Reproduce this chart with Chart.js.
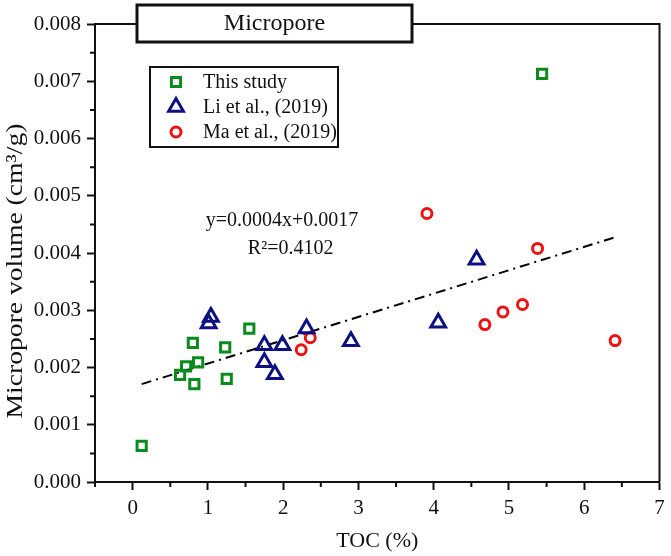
<!DOCTYPE html>
<html>
<head>
<meta charset="utf-8">
<script src="https://cdn.jsdelivr.net/npm/chart.js@4.4.1/dist/chart.umd.min.js"></script>
<style>
  body { margin: 0; background: #fff; }
  #wrap { width: 671px; height: 556px; position: relative; }
</style>
</head>
<body>
<div id="wrap"><canvas id="chart"></canvas></div>
<script>
// values
const thisStudyToc = [0.12, 0.63, 0.71, 0.80, 0.82, 0.87, 1.23, 1.25, 1.55, 5.44];
const thisStudyVol = [0.00063, 0.00187, 0.00202, 0.00243, 0.00171, 0.00209, 0.00235, 0.00180, 0.00268, 0.00713];

const liToc = [1.04, 1.01, 1.75, 1.75, 1.89, 1.99, 2.31, 2.90, 4.06, 4.57];
const liVol = [0.00288, 0.00277, 0.00239, 0.00209, 0.00188, 0.00239, 0.00268, 0.00246, 0.00278, 0.00388];

const maToc = [2.24, 2.36, 3.91, 4.68, 4.92, 5.18, 5.38, 6.41];
const maVol = [0.00231, 0.00252, 0.00469, 0.00275, 0.00297, 0.00310, 0.00408, 0.00247];

// fitted line, end points as drawn
const fitToc = [0.12, 6.40];
const fitVol = [0.00171, 0.00427];

const xTickValues = [0, 1, 2, 3, 4, 5, 6, 7];
const xMinorValues = [-0.5, 0.5, 1.5, 2.5, 3.5, 4.5, 5.5, 6.5];
const yTickValues = [0, 0.001, 0.002, 0.003, 0.004, 0.005, 0.006, 0.007, 0.008];
const yMinorValues = [0.0005, 0.0015, 0.0025, 0.0035, 0.0045, 0.0055, 0.0065, 0.0075];

const seriesLabels = ['This study', 'Li et al., (2019)', 'Ma et al., (2019)'];
const fitText = ['y=0.0004x+0.0017', 'R\u00b2=0.4102'];
const panelTitle = 'Micropore';

function toPoints(xs, ys) {
  return xs.map((x, i) => ({ x: x, y: ys[i] }));
}

const SERIF = '"Liberation Serif", "Times New Roman", serif';
const INK = '#111';
Chart.defaults.font.family = SERIF;
Chart.defaults.color = INK;

// frame, minor ticks, legend, equation and title box
const decorPlugin = {
  id: 'decor',
  afterDraw(chart) {
    const ctx = chart.ctx;
    const area = chart.chartArea;
    const xs = chart.scales.x, ys = chart.scales.y;
    ctx.save();

    // top and right borders
    ctx.strokeStyle = INK;
    ctx.lineWidth = 2;
    ctx.beginPath();
    ctx.moveTo(area.left, area.top);
    ctx.lineTo(area.right, area.top);
    ctx.lineTo(area.right, area.bottom);
    ctx.stroke();

    // minor ticks
    ctx.beginPath();
    xMinorValues.forEach(v => {
      const px = xs.getPixelForValue(v);
      ctx.moveTo(px, area.bottom);
      ctx.lineTo(px, area.bottom + 5);
    });
    yMinorValues.forEach(v => {
      const py = ys.getPixelForValue(v);
      ctx.moveTo(area.left, py);
      ctx.lineTo(area.left - 5, py);
    });
    ctx.stroke();

    // legend
    ctx.fillStyle = '#fff';
    ctx.fillRect(150, 67, 188, 80);
    ctx.strokeRect(150, 67, 188, 80);
    ctx.font = '20px ' + SERIF;
    ctx.textBaseline = 'middle';
    ctx.textAlign = 'left';
    seriesLabels.forEach((lab, i) => {
      const ds = chart.data.datasets[i];
      const y = 82 + i * 25;
      ctx.strokeStyle = ds.borderColor;
      ctx.fillStyle = 'rgba(0,0,0,0)';
      ctx.lineWidth = ds.borderWidth;
      Chart.helpers.drawPoint(ctx, { pointStyle: ds.pointStyle, radius: ds.pointRadius, borderWidth: ds.borderWidth, rotation: 0 }, 176, y);
      ctx.fillStyle = INK;
      ctx.fillText(lab, 203, y + 1);
    });

    // fit equation
    ctx.font = '20px ' + SERIF;
    ctx.fillText(fitText[0], xs.getPixelForValue(0.97), ys.getPixelForValue(0.00457));
    ctx.fillText(fitText[1], xs.getPixelForValue(1.53), ys.getPixelForValue(0.00408));

    // y axis title, stretched along its length like the original
    ctx.save();
    ctx.translate(16, (area.top + area.bottom) / 2 + 18);
    ctx.rotate(-Math.PI / 2);
    ctx.scale(1.2, 1);
    ctx.font = '23px ' + SERIF;
    ctx.textAlign = 'center';
    ctx.fillText('Micropore volume (cm\u00b3/g)', 0, 0);
    ctx.restore();

    // panel title box over the top border
    ctx.fillStyle = '#fff';
    ctx.fillRect(137, 5, 275, 37);
    ctx.lineWidth = 3;
    ctx.strokeStyle = INK;
    ctx.strokeRect(137, 5, 275, 37);
    ctx.fillStyle = INK;
    ctx.font = '24px ' + SERIF;
    ctx.textAlign = 'center';
    ctx.fillText(panelTitle, 274.5, 24);

    ctx.restore();
  }
};

const chart = new Chart(document.getElementById('chart'), {
  type: 'scatter',
  data: {
    datasets: [{
      label: seriesLabels[0],
      data: toPoints(thisStudyToc, thisStudyVol),
      pointStyle: 'rect',
      pointRadius: 6.5,
      borderWidth: 3,
      borderColor: '#0b8a1d',
      backgroundColor: 'rgba(0,0,0,0)'
    }, {
      label: seriesLabels[1],
      data: toPoints(liToc, liVol),
      pointStyle: 'triangle',
      pointRadius: 8.5,
      borderWidth: 3,
      borderColor: '#0c1080',
      backgroundColor: 'rgba(0,0,0,0)'
    }, {
      label: seriesLabels[2],
      data: toPoints(maToc, maVol),
      pointStyle: 'circle',
      pointRadius: 5,
      borderWidth: 3,
      borderColor: '#ee1111',
      backgroundColor: 'rgba(0,0,0,0)'
    }, {
      label: 'fit',
      type: 'line',
      data: toPoints(fitToc, fitVol),
      borderColor: '#000',
      borderWidth: 2,
      borderDash: [10, 5, 2, 5],
      pointRadius: 0,
      fill: false
    }]
  },
  options: {
    responsive: true,
    maintainAspectRatio: false,
    animation: false,
    layout: { padding: { top: 24, right: 8, left: 0, bottom: 0 } },
    plugins: {
      legend: { display: false },
      tooltip: { enabled: false }
    },
    scales: {
      x: {
        type: 'linear',
        min: -0.5,
        max: 7,
        afterFit: s => { s.height = 74; },
        afterBuildTicks: s => { s.ticks = xTickValues.map(v => ({ value: v })); },
        ticks: { font: { size: 21 }, color: INK, padding: 6, maxRotation: 0, autoSkip: false },
        grid: { drawOnChartArea: false, tickLength: 8, tickWidth: 2, tickColor: INK },
        border: { color: INK, width: 2 },
        title: { display: true, text: 'TOC (%)', font: { size: 22 }, color: INK, padding: { top: 0, bottom: 2 } }
      },
      y: {
        type: 'linear',
        min: 0,
        max: 0.008,
        afterFit: s => { s.width = 95; },
        afterBuildTicks: s => { s.ticks = yTickValues.map(v => ({ value: v })); },
        ticks: { font: { size: 21 }, color: INK, padding: 6, callback: v => v.toFixed(3) },
        grid: { drawOnChartArea: false, tickLength: 8, tickWidth: 2, tickColor: INK },
        border: { color: INK, width: 2 }
      }
    }
  },
  plugins: [decorPlugin]
});
</script>
</body>
</html>
